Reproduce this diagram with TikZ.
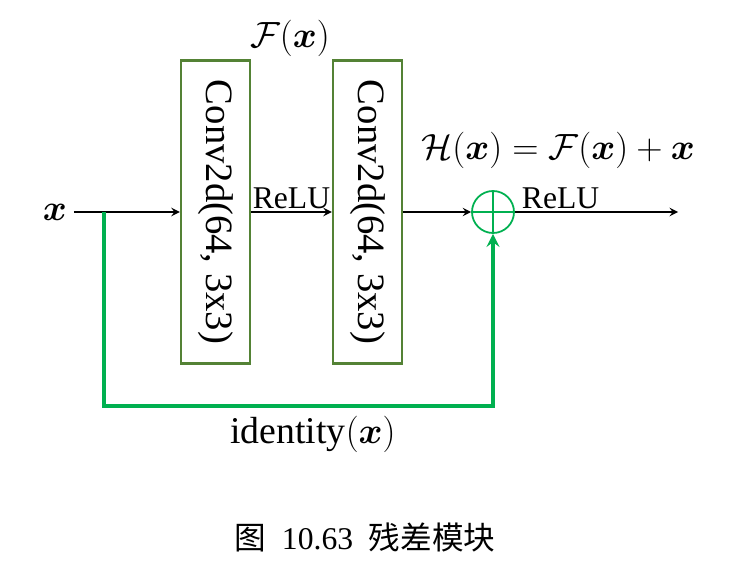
\documentclass[tikz,border=0pt]{standalone}
\usepackage{fontspec}
\usepackage{amsmath}
\usepackage{bm}
\setmainfont{Liberation Serif}
\newfontfamily\cjk{Noto Sans CJK SC}
\definecolor{boxgreen}{HTML}{548235}
\definecolor{skipgreen}{HTML}{00B050}
\tikzstyle{conv box}=[
        draw = boxgreen,
        line width = 1.4pt,
        rotate = -90,
        minimum width = 6.06cm,
        minimum height = 1.38cm,
        inner sep = 0pt,
        font = \fontsize{22}{24}\selectfont
    ]
\tikzstyle{sum node}=[
        draw = skipgreen,
        circle,
        line width = 1pt,
        minimum size = 0.84cm,
        inner sep = 0pt
    ]
\begin{document}
\begin{tikzpicture}[>=stealth, line width=1.1pt, txt/.style = {font=\fontsize{18}{20}\selectfont}, mth/.style = {font=\fontsize{21.5}{24}\selectfont}]
        \useasboundingbox (0,0) rectangle (14.6,11.28);
        \node[mth] (in) at (1.1,7.04) {$\bm{x}$};
        \node[conv box] (C1) at (4.31,7.04) {Conv2d(64, 3x3)};
        \node[conv box] (C2) at (7.35,7.04) {Conv2d(64, 3x3)};
        \node[sum node] (P) at (9.86,7.04) {};
        \coordinate (B) at (2.08,7.04);
        \coordinate (E) at (13.56,7.04);

        \draw[skipgreen, line width=0.7pt] (P.north) -- (P.south);
        \draw[skipgreen, line width=0.7pt] (P.west) -- (P.east);

        \draw[->] (in.east) -- (C1);
        \draw[->] (C1) -- (C2) node [midway,above,txt,yshift=-2pt] {ReLU};
        \draw[->] (C2) -- (P);
        \draw[->] (P) -- (E) node [pos=0.28,above,txt,yshift=-2pt] {ReLU};
        \draw[->, skipgreen, line width=2.2pt] (B) |- (9.86,3.16) -- (P.south);

        \node[mth] (F) at (5.8,10.52) {$\mathcal{F}(\bm{x})$};
        \node[mth] (H) at (11.16,8.28) {$\mathcal{H}(\bm{x})=\mathcal{F}(\bm{x})+\bm{x}$};
        \node[mth] (I) at (6.26,2.6) {identity$(\bm{x})$};
        \node[txt] (cap) at (7.3,0.54) {{\cjk 图}\ \ 10.63\ \ {\cjk 残差模块}};
    \end{tikzpicture}
\end{document}
